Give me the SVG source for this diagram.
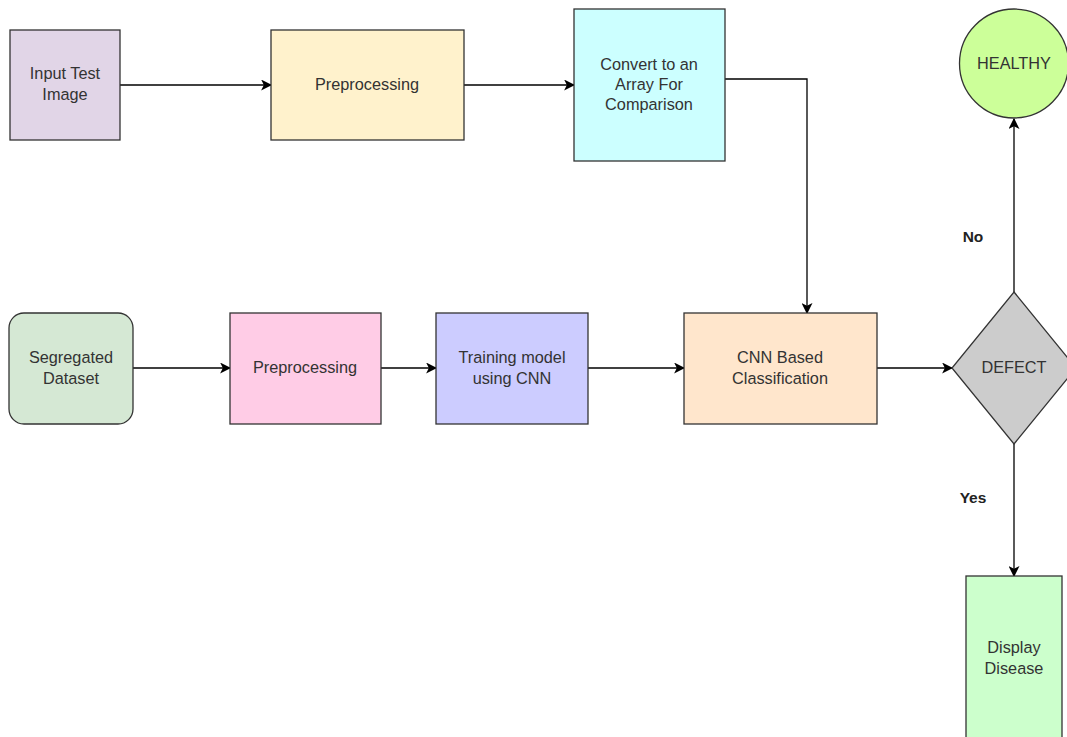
<svg xmlns="http://www.w3.org/2000/svg" width="1067" height="737" viewBox="0 0 1067 737">
<defs>
<marker id="arr" viewBox="0 0 10 10" refX="9" refY="5" markerWidth="11" markerHeight="11" markerUnits="userSpaceOnUse" orient="auto">
<path d="M0,0 L10,5 L0,10 L2.5,5 Z" fill="#000"/>
</marker>
</defs>
<style>
.n{stroke:#333;stroke-width:1.3}
.t{font-family:"Liberation Sans",Arial,sans-serif;font-size:16.3px;fill:#333;text-anchor:middle}
.b{font-family:"Liberation Sans",Arial,sans-serif;font-size:15.5px;fill:#222;font-weight:bold;text-anchor:middle}
.c{fill:none;stroke:#000;stroke-width:1.3;marker-end:url(#arr)}
</style>
<rect width="1067" height="737" fill="#fff"/>
<g id="connectors">
<path class="c" d="M120,85 H271"/>
<path class="c" d="M464,85 H574"/>
<path class="c" d="M725,79 H807 V313"/>
<path class="c" d="M133,368 H230"/>
<path class="c" d="M381,368 H436"/>
<path class="c" d="M588,368 H684"/>
<path class="c" d="M877,368 H952"/>
<path class="c" d="M1014,292 V119"/>
<path class="c" d="M1014,444 V576"/>
<text class="b" x="973" y="242">No</text>
<text class="b" x="973" y="503">Yes</text>
</g>
<g id="input"><rect class="n" x="10" y="30" width="110" height="110" fill="#e1d5e7"/><text class="t" x="65" y="79">Input Test</text><text class="t" x="65" y="100">Image</text></g>
<g id="pre1"><rect class="n" x="271" y="30" width="193" height="110" fill="#fff2cc"/><text class="t" x="367" y="90">Preprocessing</text></g>
<g id="convert"><rect class="n" x="574" y="9" width="151" height="152" fill="#ccffff"/><text class="t" x="649" y="70">Convert to an</text><text class="t" x="649" y="90">Array For</text><text class="t" x="649" y="110">Comparison</text></g>
<g id="healthy"><circle class="n" cx="1014" cy="63.5" r="54.5" fill="#ccff99"/><text class="t" x="1014" y="69">HEALTHY</text></g>
<g id="segregated"><rect class="n" x="9" y="313" width="124" height="111" rx="15" fill="#d5e8d4"/><text class="t" x="71" y="363">Segregated</text><text class="t" x="71" y="384">Dataset</text></g>
<g id="pre2"><rect class="n" x="230" y="313" width="151" height="111" fill="#ffcce6"/><text class="t" x="305" y="373">Preprocessing</text></g>
<g id="training"><rect class="n" x="436" y="313" width="152" height="111" fill="#ccccff"/><text class="t" x="512" y="363">Training model</text><text class="t" x="512" y="384">using CNN</text></g>
<g id="cnn"><rect class="n" x="684" y="313" width="193" height="111" fill="#ffe6cc"/><text class="t" x="780" y="363">CNN Based</text><text class="t" x="780" y="384">Classification</text></g>
<g id="defect"><polygon class="n" points="1014,292 1076,368 1014,444 952,368" fill="#cccccc"/><text class="t" x="1014" y="373">DEFECT</text></g>
<g id="display"><rect class="n" x="966" y="576" width="96" height="170" fill="#ccffcc"/><text class="t" x="1014" y="653">Display</text><text class="t" x="1014" y="674">Disease</text></g>
</svg>
